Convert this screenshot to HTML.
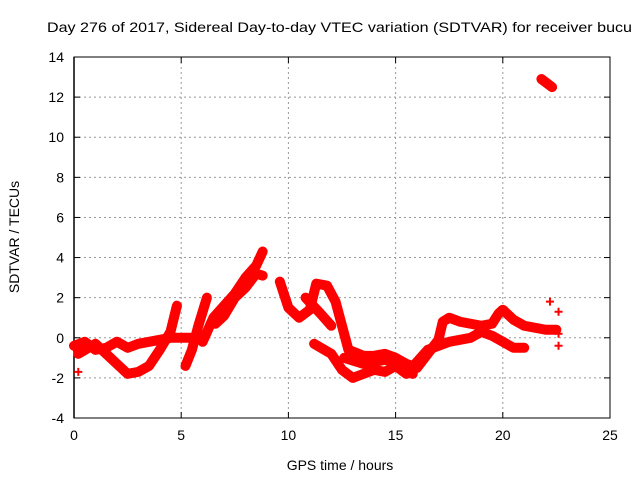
<!DOCTYPE html>
<html><head><meta charset="utf-8"><style>
body{margin:0;background:#fff}
svg text{font-family:"Liberation Sans",sans-serif;font-size:14px;fill:#000}
</style></head><body>
<svg id="c" width="640" height="480"></svg>
<script>
const xTicks=[0,5,10,15,20,25];
const yTicks=[-4,-2,0,2,4,6,8,10,12,14];
const track1=[[0,-0.4],[0.5,-0.2],[1,-0.6],[1.5,-0.5],[2,-0.2],[2.5,-0.5],[3,-0.3],[3.5,-0.2],[4,-0.1],[4.5,0],[5,0],[5.5,0],[6,0.1]];
const track2=[[0.2,-0.8],[1,-0.3],[1.5,-0.8],[2,-1.3],[2.5,-1.8],[3,-1.7],[3.5,-1.4],[4,-0.6],[4.5,0.3],[4.8,1.6]];
const track3=[[5.2,-1.4],[5.5,-0.6],[5.8,0.6],[6.2,2.0]];
const track4=[[6.0,-0.2],[6.5,1.0],[7,1.6],[7.5,2.2],[8,3.0],[8.5,3.6],[8.8,4.3]];
const track5=[[6.6,0.7],[7,1.1],[7.5,2.0],[8,2.5],[8.5,3.2],[8.8,3.1]];
const track6=[[9.6,2.8],[10,1.5],[10.5,1.0],[11,1.4],[11.3,2.7],[11.8,2.6],[12.2,1.8],[12.5,0.6],[12.8,-0.6],[13.5,-0.9],[14,-0.9],[14.5,-0.8],[15,-1.0],[15.5,-1.3],[16,-1.5],[16.5,-0.8],[17,-0.1],[17.2,0.8],[17.5,1.0],[18,0.8],[18.5,0.7],[19,0.6],[19.5,0.7],[19.8,1.2],[20,1.4],[20.5,0.9],[21,0.6],[21.5,0.5],[22,0.4],[22.5,0.4]];
const track7=[[10.8,2.0],[11.5,1.2],[12,0.6]];
const track8=[[11.2,-0.3],[12,-0.8],[12.5,-1.6],[13,-2.0],[13.5,-1.8],[14,-1.6],[14.5,-1.7],[15,-1.4],[15.5,-1.8],[16,-1.2],[16.5,-0.6],[17,-0.4],[17.5,-0.2],[18,-0.1],[18.5,0],[19,0.3],[19.5,0.1],[20,-0.2],[20.5,-0.5],[21,-0.5]];
const track9=[[12.6,-1.0],[13.5,-1.3],[14.5,-1.1],[15,-1.2],[15.8,-1.8]];
const track10=[[21.8,12.9],[22.3,12.5]];
const singles=[[22.2,1.8],[22.6,1.3],[22.6,0.2],[22.6,-0.4],[0.2,-1.7]];
const tracks=[track1,track2,track3,track4,track5,track6,track7,track8,track9,track10];
const X0=74,X1=610,Y0=418,Y1=57;
const sx=h=>X0+(h-0)/(25-0)*(X1-X0);
const sy=v=>Y0-(v+4)/(14+4)*(Y0-Y1);
const NS='http://www.w3.org/2000/svg';
const svg=document.getElementById('c');
function mk(t,a,p){const e=document.createElementNS(NS,t);for(const k in a)e.setAttribute(k,a[k]);(p||svg).appendChild(e);return e;}
const grid=mk('g',{});


xTicks.forEach(t=>{if(t>0&&t<25)mk('line',{x1:sx(t),x2:sx(t),y1:Y1,y2:Y0,stroke:'#999','stroke-dasharray':'2,3'},grid);
 const l=mk('text',{x:sx(t),y:Y0+22,'text-anchor':'middle'});l.textContent=t;
 
 
 mk('line',{x1:sx(t),x2:sx(t),y1:Y0,y2:Y0-6,stroke:'#000'});mk('line',{x1:sx(t),x2:sx(t),y1:Y1,y2:Y1+6,stroke:'#000'});});
yTicks.forEach(t=>{if(t>-4&&t<14)mk('line',{x1:X0,x2:X1,y1:sy(t),y2:sy(t),stroke:'#999','stroke-dasharray':'2,3'},grid);
 const l=mk('text',{x:X0-10,y:sy(t)+5,'text-anchor':'end'});l.textContent=t;
 
 
 mk('line',{x1:X0,x2:X0+6,y1:sy(t),y2:sy(t),stroke:'#000'});mk('line',{x1:X1,x2:X1-6,y1:sy(t),y2:sy(t),stroke:'#000'});});
const fr=mk('rect',{x:X0,y:Y1,width:X1-X0,height:Y0-Y1,fill:'none',stroke:'#000'});


mk('line',{x1:X0,x2:X0,y1:Y1,y2:Y0,stroke:'#000','stroke-width':1.5});
tracks.forEach(tr=>{const p=mk('polyline',{points:tr.map(d=>sx(d[0])+','+sy(d[1])).join(' '),fill:'none',stroke:'#f00','stroke-width':10,'stroke-linejoin':'round','stroke-linecap':'round'});
 
 });
singles.forEach(d=>{const g=mk('path',{d:`M${sx(d[0])-4},${sy(d[1])}h8M${sx(d[0])},${sy(d[1])-4}v8`,stroke:'#f00','stroke-width':2});
 
 });
const ti=mk('text',{x:47,y:32,textLength:585,lengthAdjust:'spacingAndGlyphs'});ti.textContent='Day 276 of 2017, Sidereal Day-to-day VTEC variation (SDTVAR) for receiver bucu';


const xt=mk('text',{x:340,y:470,'text-anchor':'middle'});xt.textContent='GPS time / hours';


const yt=mk('text',{x:0,y:0,'text-anchor':'middle',transform:'translate(19,237) rotate(-90)'});yt.textContent='SDTVAR / TECUs';


</script>
</body></html>
